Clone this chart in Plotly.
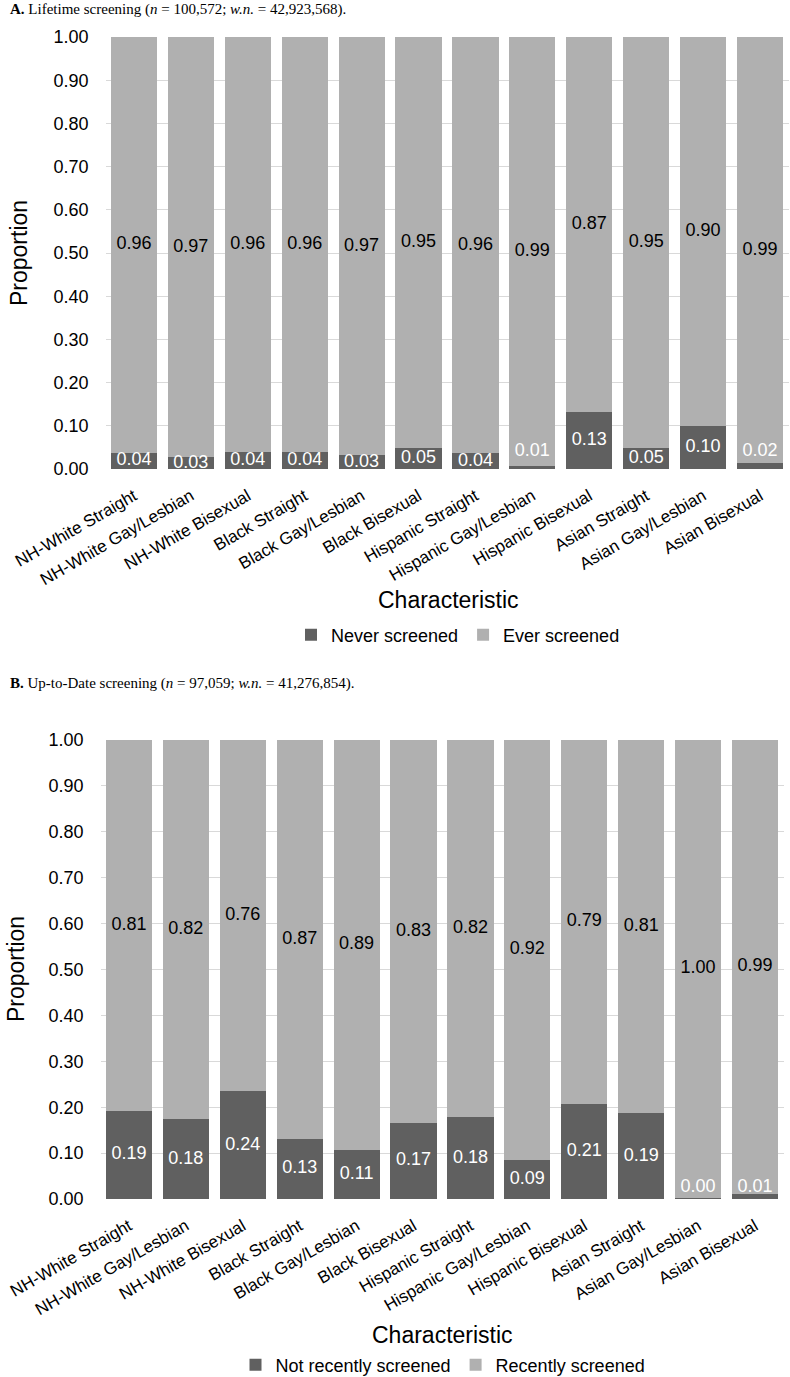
import plotly.graph_objects as go

categories = ["NH-White Straight", "NH-White Gay/Lesbian", "NH-White Bisexual",
              "Black Straight", "Black Gay/Lesbian", "Black Bisexual",
              "Hispanic Straight", "Hispanic Gay/Lesbian", "Hispanic Bisexual",
              "Asian Straight", "Asian Gay/Lesbian", "Asian Bisexual"]

# Panel A: lifetime screening
a_never = [0.038, 0.027, 0.040, 0.039, 0.032, 0.048, 0.036, 0.007, 0.133, 0.049, 0.100, 0.013]
a_never_lbl = [0.04, 0.03, 0.04, 0.04, 0.03, 0.05, 0.04, 0.01, 0.13, 0.05, 0.10, 0.02]
a_ever_lbl = [0.96, 0.97, 0.96, 0.96, 0.97, 0.95, 0.96, 0.99, 0.87, 0.95, 0.90, 0.99]

# Panel B: up-to-date screening
b_not = [0.192, 0.174, 0.235, 0.131, 0.107, 0.166, 0.178, 0.085, 0.208, 0.187, 0.003, 0.011]
b_not_lbl = [0.19, 0.18, 0.24, 0.13, 0.11, 0.17, 0.18, 0.09, 0.21, 0.19, 0.00, 0.01]
b_recent_lbl = [0.81, 0.82, 0.76, 0.87, 0.89, 0.83, 0.82, 0.92, 0.79, 0.81, 1.00, 0.99]

W, H = 790, 1377
DARK = "#606060"
LIGHT = "#b0b0b0"
GRID = "#d9d9d9"
FONT = "Liberation Sans, Arial, sans-serif"
SERIF = "Liberation Serif, Times New Roman, serif"


def px_x(p):
    return p / W


def px_y(p):
    return 1 - p / H


fig = go.Figure()


def add_panel(xa, ya, dark, dark_lbl, light_lbl, dark_name, light_name, legend, lift):
    light_h = [1 - d for d in dark]
    fig.add_trace(go.Bar(x=categories, y=dark, name=dark_name, marker=dict(color=DARK, line_width=0),
                         xaxis=xa, yaxis=ya, legend=legend, hoverinfo="skip"))
    fig.add_trace(go.Bar(x=categories, y=light_h, name=light_name, marker=dict(color=LIGHT, line_width=0),
                         xaxis=xa, yaxis=ya, legend=legend, hoverinfo="skip"))
    dark_pos = [d / 2 if d >= 0.02 else lift for d in dark]
    light_pos = [d + (1 - d) / 2 for d in dark]
    fig.add_trace(go.Scatter(x=categories, y=dark_pos, mode="text",
                             text=[f"{v:.2f}" for v in dark_lbl],
                             textfont=dict(family=FONT, size=18, color="white"),
                             xaxis=xa, yaxis=ya, showlegend=False, hoverinfo="skip", cliponaxis=True))
    fig.add_trace(go.Scatter(x=categories, y=light_pos, mode="text",
                             text=[f"{v:.2f}" for v in light_lbl],
                             textfont=dict(family=FONT, size=18, color="black"),
                             xaxis=xa, yaxis=ya, showlegend=False, hoverinfo="skip", cliponaxis=True))


add_panel("x", "y", a_never, a_never_lbl, a_ever_lbl, "Never screened", "Ever screened", "legend", 0.04)
add_panel("x2", "y2", b_not, b_not_lbl, b_recent_lbl, "Not recently screened", "Recently screened", "legend2", 0.026)

xcommon = dict(type="category", tickangle=-30, showgrid=False, zeroline=False, showline=False,
               tickfont=dict(family=FONT, size=17, color="black"), ticks="", ticklabelstandoff=13,
               range=[-0.5, 11.5], fixedrange=True, automargin=False)
ycommon = dict(range=[0, 1], dtick=0.1, tickformat=".2f", showgrid=True, gridcolor=GRID, gridwidth=1,
               zeroline=False, showline=False, ticks="", ticklabelstandoff=16,
               tickfont=dict(family=FONT, size=18, color="black"), fixedrange=True, automargin=False)

legcommon = dict(orientation="h", xanchor="center", yanchor="middle", traceorder="normal",
                 font=dict(family=FONT, size=18, color="black"), bgcolor="rgba(0,0,0,0)")

fig.update_layout(
    width=W, height=H, autosize=False,
    margin=dict(l=0, r=0, t=0, b=0, autoexpand=False),
    paper_bgcolor="white", plot_bgcolor="white",
    barmode="stack", bargap=0.19,
    font=dict(family=FONT, color="black"),
    xaxis=dict(domain=[px_x(105.5), px_x(788.5)], anchor="y", **xcommon),
    yaxis=dict(domain=[px_y(469), px_y(37)], anchor="x", **ycommon),
    xaxis2=dict(domain=[px_x(100.5), px_x(783.5)], anchor="y2", **xcommon),
    yaxis2=dict(domain=[px_y(1199), px_y(740)], anchor="x2", **ycommon),
    legend=dict(x=px_x(458), y=px_y(635), **legcommon),
    legend2=dict(x=px_x(443), y=px_y(1365), **legcommon),
    showlegend=True,
)

annotations = [
    dict(text="<b>A.</b> Lifetime screening (<i>n</i> = 100,572; <i>w.n.</i> = 42,923,568).",
         x=px_x(8), y=px_y(10), xanchor="left", yanchor="middle",
         font=dict(family=SERIF, size=15, color="black")),
    dict(text="<b>B.</b> Up-to-Date screening (<i>n</i> = 97,059; <i>w.n.</i> = 41,276,854).",
         x=px_x(8), y=px_y(683), xanchor="left", yanchor="middle",
         font=dict(family=SERIF, size=15, color="black")),
    dict(text="Proportion", x=px_x(19), y=px_y(253), textangle=-90, xanchor="center", yanchor="middle",
         font=dict(family=FONT, size=23, color="black")),
    dict(text="Proportion", x=px_x(16), y=px_y(969), textangle=-90, xanchor="center", yanchor="middle",
         font=dict(family=FONT, size=23, color="black")),
    dict(text="Characteristic", x=px_x(448), y=px_y(600), xanchor="center", yanchor="middle",
         font=dict(family=FONT, size=23, color="black")),
    dict(text="Characteristic", x=px_x(442), y=px_y(1335), xanchor="center", yanchor="middle",
         font=dict(family=FONT, size=23, color="black")),
]
for a in annotations:
    a.update(xref="paper", yref="paper", showarrow=False)
fig.update_layout(annotations=annotations)

fig.write_html("out.html", config={"displayModeBar": False, "staticPlot": True},
               post_script="document.body.style.margin='0';")
